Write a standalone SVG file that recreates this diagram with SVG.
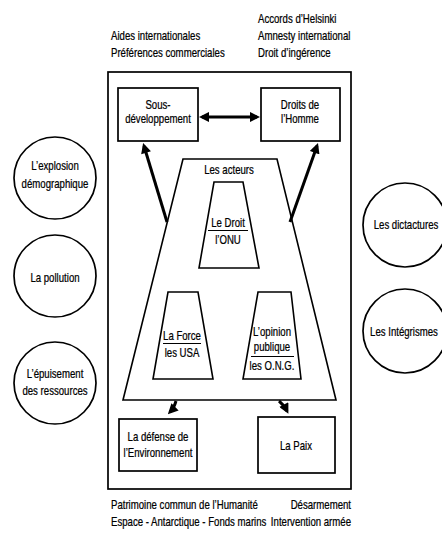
<svg xmlns="http://www.w3.org/2000/svg" width="442" height="537" viewBox="0 0 442 537">
<defs>
<style>
text{font-family:"Liberation Sans",Arial,sans-serif;font-size:13px;fill:#000;stroke:#000;stroke-width:0.25}
.c{text-anchor:middle}
.e{text-anchor:end}
.s{fill:#fff;stroke:#000;stroke-width:1.7}
.t{fill:none;stroke:#000;stroke-width:1.6}
.a{fill:none;stroke:#000;stroke-width:3}
.u{stroke:#000;stroke-width:1.1}
</style>
<marker id="ah" viewBox="0 0 10 10" refX="7" refY="5" markerWidth="3.6" markerHeight="3.4" orient="auto-start-reverse" markerUnits="strokeWidth">
<path d="M0,0 L10,5 L0,10 z" fill="#000"/>
</marker>
</defs>
<rect width="442" height="537" fill="#fff"/>
<g id="outer"><rect class="s" x="108" y="72" width="243" height="417"/></g>
<g id="top-labels">
<text transform="translate(111 40) scale(.74 1)">Aides internationales</text>
<text transform="translate(111 57) scale(.74 1)">Préférences commerciales</text>
<text transform="translate(258 23) scale(.74 1)">Accords d’Helsinki</text>
<text transform="translate(258 40) scale(.74 1)">Amnesty international</text>
<text transform="translate(258 57) scale(.74 1)">Droit d’ingérence</text>
</g>
<g id="sous-dev"><rect class="s" x="118" y="88" width="80" height="53"/>
<text class="c" transform="translate(158 109) scale(.74 1)">Sous-</text>
<text class="c" transform="translate(158 123) scale(.74 1)">développement</text></g>
<g id="droits"><rect class="s" x="261" y="88" width="79" height="53"/>
<text class="c" transform="translate(300 109) scale(.74 1)">Droits de</text>
<text class="c" transform="translate(300 123) scale(.74 1)">l’Homme</text></g>
<g id="acteurs"><polygon class="t" points="183,159 277,159 336,400 123,400"/>
<text class="c" transform="translate(229 174) scale(.74 1)">Les acteurs</text></g>
<g id="droit-onu"><polygon class="t" points="214,182 243,182 259,268 199,268"/>
<text class="c" transform="translate(228 227) scale(.74 1)">Le Droit</text>
<line class="u" x1="208" y1="230.5" x2="248" y2="230.5"/>
<text class="c" transform="translate(228 244) scale(.74 1)">l’ONU</text></g>
<g id="force-usa"><polygon class="t" points="168,292 198,292 213,379 153,379"/>
<text class="c" transform="translate(182 340) scale(.74 1)">La Force</text>
<line class="u" x1="163" y1="343.5" x2="201" y2="343.5"/>
<text class="c" transform="translate(182 357) scale(.74 1)">les USA</text></g>
<g id="opinion"><polygon class="t" points="258,292 291,292 301,379 243,379"/>
<text class="c" transform="translate(272 336) scale(.74 1)">L’opinion</text>
<text class="c" transform="translate(272 351) scale(.74 1)">publique</text>
<line class="u" x1="251" y1="356.5" x2="294" y2="356.5"/>
<text class="c" transform="translate(272 370) scale(.74 1)">les O.N.G.</text></g>
<g id="environnement"><rect class="s" x="119" y="419" width="78" height="52"/>
<text class="c" transform="translate(158 441) scale(.74 1)">La défense de</text>
<text class="c" transform="translate(158 457) scale(.74 1)">l’Environnement</text></g>
<g id="paix"><rect class="s" x="258" y="417" width="77" height="56"/>
<text class="c" transform="translate(296 450) scale(.74 1)">La Paix</text></g>
<g id="c-explosion"><circle class="s" cx="55" cy="178" r="41"/>
<text class="c" transform="translate(55 170) scale(.74 1)">L’explosion</text>
<text class="c" transform="translate(55 188) scale(.74 1)">démographique</text></g>
<g id="c-pollution"><circle class="s" cx="55" cy="276" r="41"/>
<text class="c" transform="translate(55 282) scale(.74 1)">La pollution</text></g>
<g id="c-epuisement"><circle class="s" cx="55" cy="383" r="41"/>
<text class="c" transform="translate(55 378) scale(.74 1)">L’épuisement</text>
<text class="c" transform="translate(55 395) scale(.74 1)">des ressources</text></g>
<g id="c-dictatures"><circle class="s" cx="405" cy="225" r="42"/>
<text class="c" transform="translate(406 229) scale(.74 1)">Les dictactures</text></g>
<g id="c-integrismes"><circle class="s" cx="405" cy="331" r="42"/>
<text class="c" transform="translate(404 336) scale(.74 1)">Les Intégrismes</text></g>
<g id="bottom-labels">
<text transform="translate(111 509) scale(.74 1)">Patrimoine commun de l’Humanité</text>
<text transform="translate(111 526) scale(.74 1)">Espace - Antarctique - Fonds marins</text>
<text class="e" transform="translate(351 509) scale(.74 1)">Désarmement</text>
<text class="e" transform="translate(351 526) scale(.74 1)">Intervention armée</text>
</g>
<g id="connectors">
<line class="a" x1="202" y1="117" x2="257" y2="117" marker-start="url(#ah)" marker-end="url(#ah)"/>
<line class="a" x1="167" y1="222" x2="144" y2="146" marker-end="url(#ah)"/>
<line class="a" x1="290" y1="222" x2="317" y2="146" marker-end="url(#ah)"/>
<path class="a" d="M176,401 Q174,408 170,412" marker-end="url(#ah)"/>
<path class="a" d="M279,401 Q284,405 287,411" marker-end="url(#ah)"/>
</g>
</svg>
